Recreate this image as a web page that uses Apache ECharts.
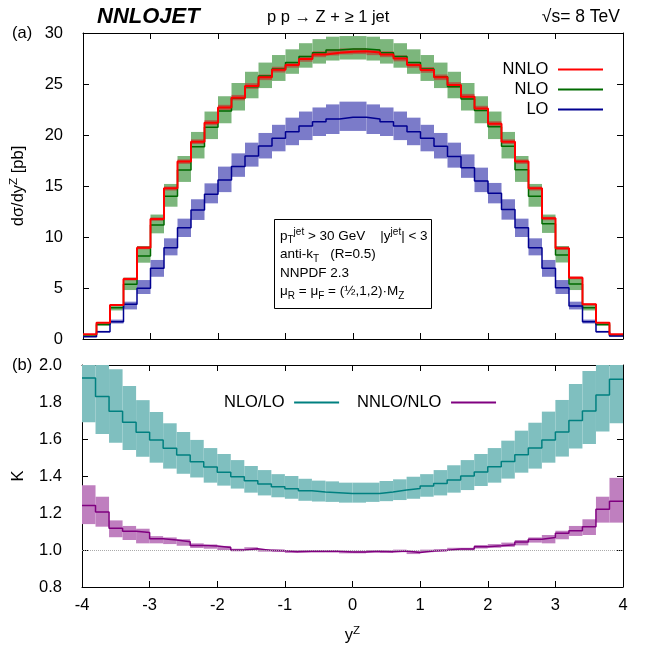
<!DOCTYPE html>
<html><head><meta charset="utf-8">
<script src="https://cdn.jsdelivr.net/npm/echarts@6/dist/echarts.min.js"></script>
<style>html,body{margin:0;padding:0;background:#fff}#c{width:646px;height:646px}</style>
</head><body><div id="c"></div><script>
// ---- data ----
const yEdges = [-4.0,-3.8,-3.6,-3.4,-3.2,-3.0,-2.8,-2.6,-2.4,-2.2,-2.0,-1.8,-1.6,-1.4,-1.2,-1.0,-0.8,-0.6,-0.4,-0.2,0.0,
  0.2,0.4,0.6,0.8,1.0,1.2,1.4,1.6,1.8,2.0,2.2,2.4,2.6,2.8,3.0,3.2,3.4,3.6,3.8,4.0];
const xTicks = [-4,-3,-2,-1,0,1,2,3,4];

const nnlo   = [0.46,1.60,3.33,5.88,8.95,11.76,14.77,17.40,19.35,21.20,22.70,23.66,24.80,25.65,26.40,26.86,27.45,27.90,28.07,28.17,
                28.20,28.10,27.90,27.50,26.86,26.37,25.65,24.90,23.76,22.60,21.10,19.35,17.40,14.77,11.83,8.89,6.00,3.40,1.60,0.46];
const nnloLo = [0.44,1.56,3.25,5.74,8.80,11.58,14.56,17.17,19.12,20.95,22.44,23.40,24.53,25.38,26.13,26.60,27.18,27.63,27.80,27.90,
                27.93,27.83,27.63,27.22,26.60,26.10,25.38,24.63,23.50,22.34,20.86,19.12,17.17,14.56,11.65,8.74,5.86,3.31,1.56,0.44];
const nnloHi = [0.48,1.65,3.40,6.02,9.10,11.92,14.95,17.60,19.57,21.45,22.96,23.93,25.08,25.93,26.69,27.16,27.76,28.21,28.38,28.48,
                28.51,28.41,28.21,27.80,27.16,26.66,25.93,25.18,24.03,22.86,21.35,19.57,17.60,14.95,11.99,9.05,6.14,3.49,1.65,0.48];

const nlo    = [0.40,1.42,3.07,5.36,8.14,11.18,14.00,16.57,18.86,20.75,22.35,23.60,24.74,25.78,26.47,27.10,27.70,28.07,28.33,28.43,
                28.43,28.33,28.07,27.70,27.10,26.47,25.70,24.74,23.53,22.40,20.80,18.90,16.60,14.00,11.30,8.24,5.40,3.07,1.42,0.40];
const nloLo  = [0.36,1.30,2.80,4.80,7.48,10.36,12.97,15.40,17.70,19.60,21.15,22.40,23.60,24.60,25.30,26.00,26.60,27.00,27.30,27.40,
                27.40,27.30,27.00,26.60,26.00,25.30,24.60,23.60,22.40,21.15,19.60,17.70,15.40,12.97,10.40,7.50,4.80,2.80,1.30,0.36];
const nloHi  = [0.46,1.60,3.35,6.01,9.12,12.20,15.20,17.94,20.30,22.30,23.80,25.10,26.20,27.10,27.84,28.40,29.00,29.40,29.64,29.70,
                29.70,29.64,29.40,29.00,28.40,27.84,27.10,26.20,25.10,23.80,22.30,20.30,17.94,15.20,12.20,9.12,6.01,3.35,1.60,0.46];

const lo     = [0.23,0.72,1.70,3.40,4.97,6.93,8.95,10.90,12.65,14.20,15.60,16.90,17.94,18.92,19.67,20.33,20.88,21.30,21.57,21.73,
                21.73,21.57,21.30,20.88,20.33,19.67,18.90,17.90,16.80,15.50,14.28,12.70,10.90,8.95,6.93,5.03,3.24,1.70,0.72,0.30];
const loLo   = [0.20,0.62,1.52,2.90,4.41,6.10,8.20,10.00,11.67,13.30,14.40,15.90,16.90,17.70,18.40,19.00,19.50,19.90,20.10,20.40,
                20.40,20.10,19.90,19.50,19.00,18.40,17.70,16.80,15.80,14.40,13.30,11.70,10.00,8.20,6.10,4.41,2.90,1.52,0.62,0.24];
const loHi   = [0.27,0.80,1.90,3.66,5.78,7.75,9.87,11.80,13.70,15.26,16.90,18.20,19.25,20.20,21.00,21.70,22.30,22.70,23.00,23.27,
                23.27,23.00,22.70,22.30,21.70,21.00,20.20,19.25,18.10,16.80,15.30,13.70,11.80,9.87,7.75,5.78,3.66,1.90,0.80,0.34];

const kNloLo      = [1.93,1.83,1.75,1.69,1.636,1.595,1.55,1.514,1.477,1.449,1.42,1.396,1.375,1.357,1.342,1.331,1.32,1.314,1.31,1.306,
                     1.306,1.306,1.314,1.324,1.333,1.346,1.36,1.378,1.40,1.422,1.45,1.479,1.515,1.551,1.595,1.638,1.70,1.751,1.838,1.923];
const kNloLoLow   = [1.69,1.627,1.58,1.54,1.504,1.472,1.44,1.412,1.392,1.364,1.348,1.332,1.31,1.295,1.285,1.277,1.266,1.262,1.26,1.256,
                     1.256,1.26,1.264,1.27,1.277,1.288,1.295,1.31,1.324,1.346,1.364,1.386,1.418,1.44,1.472,1.505,1.548,1.573,1.64,1.685];
const kNloLoHigh  = [2.10,2.04,1.977,1.886,1.81,1.746,1.685,1.638,1.595,1.551,1.519,1.486,1.454,1.432,1.41,1.40,1.385,1.375,1.371,1.364,
                     1.364,1.364,1.373,1.382,1.396,1.41,1.432,1.458,1.486,1.519,1.551,1.591,1.645,1.688,1.748,1.811,1.897,1.968,2.04,2.10];

const kNnloNlo     = [1.241,1.205,1.117,1.101,1.094,1.061,1.054,1.045,1.025,1.021,1.013,1.0,1.007,0.998,0.996,0.991,0.993,0.993,0.993,0.989,
                      0.989,0.993,0.991,0.995,0.987,0.995,0.998,1.005,1.005,1.018,1.023,1.029,1.043,1.058,1.067,1.09,1.104,1.126,1.22,1.263];
const kNnloNloLow  = [1.14,1.126,1.069,1.054,1.036,1.036,1.032,1.023,1.011,1.007,1.0,0.993,0.999,0.991,0.989,0.984,0.986,0.986,0.986,0.982,
                      0.982,0.986,0.984,0.988,0.978,0.988,0.991,0.998,0.998,1.008,1.012,1.017,1.025,1.04,1.036,1.058,1.076,1.081,1.148,1.148];
const kNnloNloHigh = [1.35,1.288,1.16,1.13,1.115,1.075,1.068,1.058,1.036,1.03,1.022,1.007,1.015,1.005,1.003,0.998,1.0,1.0,1.0,0.996,
                      0.996,1.0,0.998,1.002,0.996,1.002,1.005,1.012,1.012,1.027,1.032,1.04,1.054,1.068,1.081,1.104,1.13,1.166,1.288,1.39];
const kRef = 1.0;

// ---- chart ----
const FONT = '"Liberation Sans", Arial, Helvetica, sans-serif';
const FS = 16.5;

function steps(vals) {
  const d = vals.map((v, i) => [yEdges[i], v]);
  d.push([yEdges[yEdges.length - 1], vals[vals.length - 1]]);
  return d;
}
function bands(lowArr, highArr) {
  return lowArr.map((l, i) => [yEdges[i], yEdges[i + 1], l, highArr[i]]);
}
function bandSeries(name, lowArr, highArr, color, idx) {
  return {
    type: 'custom', name: name, xAxisIndex: idx, yAxisIndex: idx, clip: true, silent: true,
    encode: { x: [0, 1], y: [2, 3] },
    data: bands(lowArr, highArr),
    z: 1,
    renderItem: function (params, api) {
      const a = api.coord([api.value(0), api.value(3)]);
      const b = api.coord([api.value(1), api.value(2)]);
      return { type: 'rect', shape: { x: a[0], y: a[1], width: b[0] - a[0], height: b[1] - a[1] },
               style: { fill: color } };
    }
  };
}
function lineSeries(name, vals, color, width, idx) {
  return {
    type: 'line', name: name, xAxisIndex: idx, yAxisIndex: idx, step: 'end', data: steps(vals),
    symbol: 'none', showSymbol: false, clip: true, z: 3,
    lineStyle: { color: color, width: width }, itemStyle: { color: color }
  };
}
const tickStyle = { inside: true, length: 6, lineStyle: { color: '#000', width: 1 } };
const lineStyleAx = { show: true, onZero: false, lineStyle: { color: '#000', width: 1 } };

function xAx(grid, pos, showLabel, extra) {
  return Object.assign({
    gridIndex: grid, type: 'value', position: pos, min: xTicks[0], max: xTicks[xTicks.length - 1], interval: 1,
    axisLine: lineStyleAx, axisTick: tickStyle, splitLine: { show: false },
    axisLabel: { show: showLabel, color: '#000', fontFamily: FONT, fontSize: FS, margin: 10 }
  }, extra || {});
}
function yAx(grid, pos, min, max, interval, showLabel, fmt, extra) {
  return Object.assign({
    gridIndex: grid, type: 'value', position: pos, min: min, max: max, interval: interval,
    axisLine: lineStyleAx, axisTick: tickStyle, splitLine: { show: false },
    axisLabel: { show: showLabel, color: '#000', fontFamily: FONT, fontSize: FS, margin: 20, formatter: fmt }
  }, extra || {});
}
const supRich = {
  a: { fontFamily: FONT, fontSize: FS, color: '#000', lineHeight: 20 },
  s: { fontFamily: FONT, fontSize: 11.5, color: '#000', verticalAlign: 'top', lineHeight: 12 }
};
const legendBase = { padding: 0, align: 'right', itemWidth: 45, itemHeight: 2, icon: 'rect',
  formatter: n => n + ' ', textStyle: { color: '#000', fontFamily: FONT, fontSize: FS } };

const option = {
  animation: false,
  backgroundColor: '#fff',
  textStyle: { fontFamily: FONT },
  grid: [
    { left: 82, right: 23, top: 33, height: 306 },
    { left: 82, right: 23, top: 365, height: 222 }
  ],
  xAxis: [
    xAx(0, 'bottom', false),
    xAx(0, 'top', false),
    xAx(1, 'bottom', true, { name: '{a|y}{s|Z}', nameLocation: 'middle', nameGap: 38,
      nameTextStyle: { rich: supRich } }),
    xAx(1, 'top', false)
  ],
  yAxis: [
    yAx(0, 'left', 0, 30, 5, true, v => String(v), { name: '{a|dσ/dy}{s|Z}{a| [pb]}', nameLocation: 'middle', nameGap: 55,
      nameTextStyle: { rich: supRich } }),
    yAx(0, 'right', 0, 30, 5, false),
    yAx(1, 'left', 0.8, 2.0, 0.2, true, v => v.toFixed(1), { name: 'K', nameLocation: 'middle', nameGap: 55,
      nameTextStyle: { color: '#000', fontFamily: FONT, fontSize: FS } }),
    yAx(1, 'right', 0.8, 2.0, 0.2, false)
  ],
  legend: [
    Object.assign({ data: ['NNLO'], right: 43, top: 61 }, legendBase),
    Object.assign({ data: ['NLO'], right: 43, top: 81 }, legendBase),
    Object.assign({ data: ['LO'], right: 43, top: 101 }, legendBase),
    Object.assign({ data: ['NLO/LO', 'NNLO/NLO'], left: 224, top: 394, orient: 'horizontal', itemGap: 18 }, legendBase)
  ],
  graphic: [
    { type: 'text', left: 97, top: 6, z: 100,
      style: { text: 'NNLOJET', font: 'italic bold 22px ' + FONT, fill: '#000' } },
    { type: 'text', left: 267, top: 9, z: 100,
      style: { text: 'p p \u2192 Z + \u2265 1 jet', font: '16.5px ' + FONT, fill: '#000' } },
    { type: 'text', right: 26, top: 8, z: 100,
      style: { text: '\u221As= 8 TeV', font: '17.5px ' + FONT, fill: '#000' } },
    { type: 'text', left: 12, top: 25, z: 100,
      style: { text: '(a)', font: '16.5px ' + FONT, fill: '#000' } },
    { type: 'text', left: 12, top: 357, z: 100,
      style: { text: '(b)', font: '16.5px ' + FONT, fill: '#000' } },
    { type: 'rect', z: 100, shape: { x: 274.5, y: 219.5, width: 157, height: 89 },
      style: { fill: '#fff', stroke: '#000', lineWidth: 1 } },
    { type: 'text', left: 280, top: 227, z: 101,
      style: {
        text: '{n|p}{sub|T}{sup|jet}{n| > 30 GeV    |y}{sup|jet}{n|| < 3}\n' +
              '{n|anti-k}{sub|T}{n|   (R=0.5)}\n' +
              '{n|NNPDF 2.3}\n' +
              '{n|\u03BC}{sub|R}{n| = \u03BC}{sub|F}{n| = (\u00BD,1,2)\u00B7M}{sub|Z}',
        rich: {
          n: { fontFamily: FONT, fontSize: 13.5, color: '#000', lineHeight: 18.5 },
          sub: { fontFamily: FONT, fontSize: 10, color: '#000', lineHeight: 10, verticalAlign: 'bottom' },
          sup: { fontFamily: FONT, fontSize: 10, color: '#000', lineHeight: 10, verticalAlign: 'top' }
        }
      } }
  ],
  series: [
    bandSeries('NLO band', nloLo, nloHi, '#7cb67c', 0),
    bandSeries('LO band', loLo, loHi, '#7b7bc9', 0),
    bandSeries('NNLO band', nnloLo, nnloHi, 'rgba(200,30,30,0.55)', 0),
    lineSeries('NLO', nlo, '#006a00', 1.5, 0),
    lineSeries('LO', lo, '#000090', 1.5, 0),
    lineSeries('NNLO', nnlo, '#ff0000', 2, 0),
    bandSeries('NLO/LO band', kNloLoLow, kNloLoHigh, '#7fbfbf', 2),
    bandSeries('NNLO/NLO band', kNnloNloLow, kNnloNloHigh, '#bf7fbf', 2),
    lineSeries('NLO/LO', kNloLo, '#008080', 1.5, 2),
    Object.assign(lineSeries('NNLO/NLO', kNnloNlo, '#800080', 1.5, 2), {
      markLine: { silent: true, symbol: ['none', 'none'], label: { show: false },
        lineStyle: { type: 'dotted', color: '#aaa', width: 1 }, data: [{ yAxis: kRef }] }
    })
  ]
};
const chart = echarts.init(document.getElementById('c'), null, { renderer: 'canvas' });
chart.setOption(option);
</script></body></html>
